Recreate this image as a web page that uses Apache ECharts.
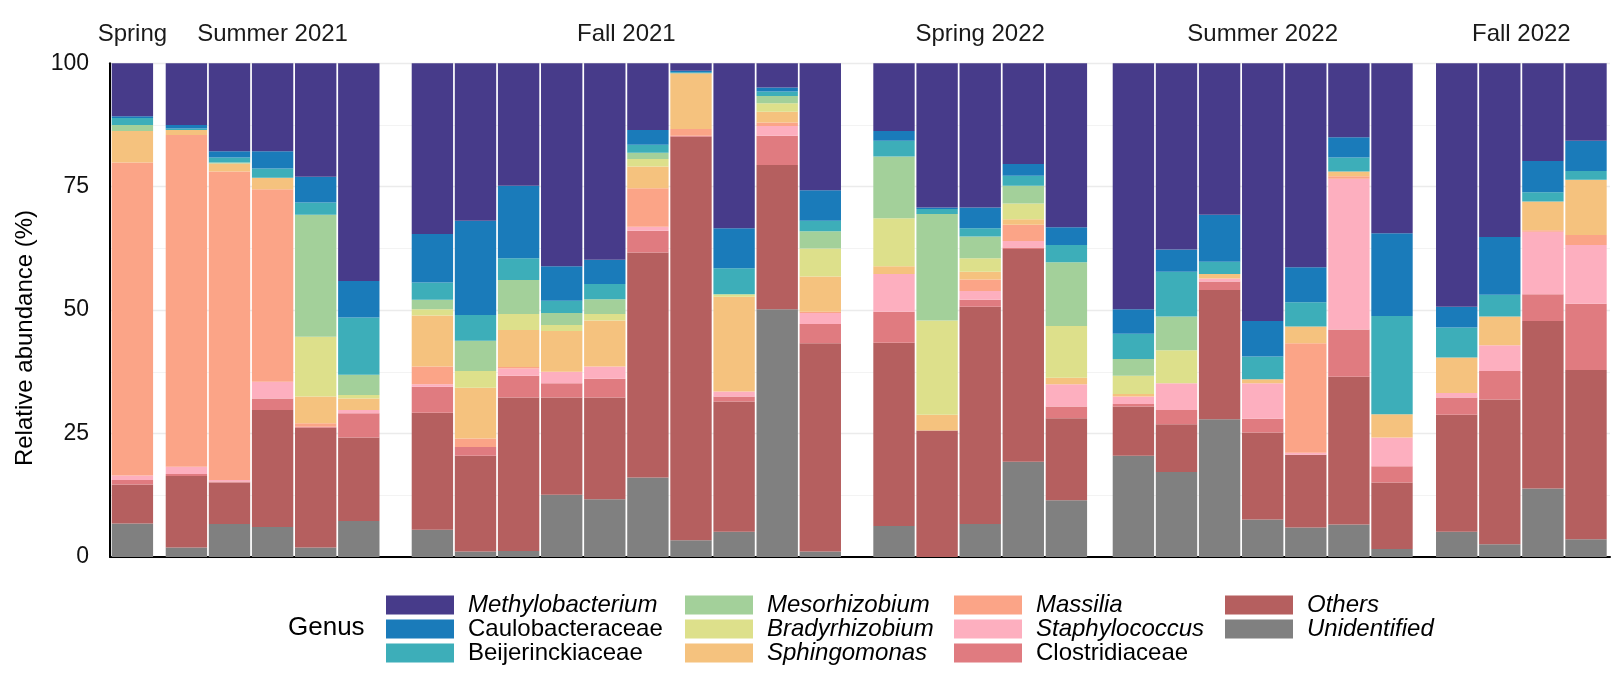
<!DOCTYPE html>
<html>
<head>
<meta charset="utf-8">
<title>Relative abundance by season</title>
<script src="https://cdn.jsdelivr.net/npm/echarts@6/dist/echarts.min.js"></script>
<style>
    html, body { margin: 0; padding: 0; background: #fff; }
    #main { width: 1615px; height: 680px; }
</style>
</head>
<body>
<div id="main"></div>
<script>
// facets (season) and how many samples each one holds
var seasons = ['Spring', 'Summer 2021', 'Fall 2021', 'Spring 2022', 'Summer 2022', 'Fall 2022'];
var seasonSizes = [1, 5, 10, 5, 7, 4];
var yTicks = [0, 25, 50, 75, 100];

// genera, top of the stack first
var genera = ['Methylobacterium', 'Caulobacteraceae', 'Beijerinckiaceae', 'Mesorhizobium', 'Bradyrhizobium',
    'Sphingomonas', 'Massilia', 'Staphylococcus', 'Clostridiaceae', 'Others', 'Unidentified'];
var italicGenera = ['Methylobacterium', 'Mesorhizobium', 'Bradyrhizobium', 'Sphingomonas', 'Massilia',
    'Staphylococcus', 'Others', 'Unidentified'];

// relative abundance (%) per sample, samples in facet order
var methylobacterium = [10.7, 12.5, 17.8, 17.8, 23.0, 44.1, 34.6, 31.9, 24.8, 41.1, 39.8, 13.5, 1.5, 33.4, 4.9, 25.7,
    13.7, 29.2, 29.2, 20.4, 33.2, 49.8, 37.7, 30.7, 52.2, 41.3, 15.0, 34.4, 49.3, 35.2, 19.8, 15.7];
var caulobacteraceae = [0.4, 0.7, 1.3, 3.5, 5.2, 7.4, 9.8, 19.1, 14.7, 7.0, 4.9, 3.0, 0.3, 8.1, 0.8, 6.2,
    2.0, 0.3, 4.2, 2.4, 3.6, 5.0, 4.5, 9.5, 7.2, 7.1, 4.1, 16.8, 4.2, 11.7, 6.3, 6.1];
var beijerinckiaceae = [1.4, 0.3, 1.0, 1.9, 2.5, 11.6, 3.5, 5.2, 4.4, 2.5, 3.1, 1.6, 0.2, 5.3, 0.9, 2.1,
    3.2, 1.0, 1.7, 2.0, 3.5, 5.1, 9.1, 2.5, 4.6, 4.9, 2.8, 19.9, 6.1, 4.4, 1.9, 1.8];
var mesorhizobium = [1.2, 0, 0.2, 0, 24.7, 4.1, 1.9, 6.1, 6.9, 2.4, 3.0, 1.3, 0, 0, 1.5, 3.5,
    12.5, 21.6, 4.4, 3.6, 12.9, 3.4, 6.8, 0, 0, 0, 0, 0, 0, 0, 0, 0];
var bradyrhizobium = [0, 0, 0, 0, 12.1, 0.7, 1.3, 3.4, 3.2, 1.2, 1.3, 1.5, 0, 0.5, 1.7, 5.7,
    9.7, 19.1, 2.7, 3.2, 10.5, 3.7, 6.7, 0, 0, 0, 0, 0, 0, 0, 0, 0];
var sphingomonas = [6.4, 1.0, 1.6, 2.3, 5.4, 2.3, 10.3, 10.3, 7.5, 8.3, 9.3, 4.4, 11.3, 19.2, 2.2, 7.1,
    1.6, 3.2, 1.6, 1.1, 1.3, 0.5, 0, 0.9, 0.8, 3.4, 1.0, 4.7, 7.2, 5.8, 5.8, 11.2];
var massilia = [63.4, 67.2, 62.5, 39.0, 0.7, 0, 3.6, 1.7, 0.3, 0, 0, 7.8, 1.4, 0, 0.7, 0.3,
    0, 0, 2.3, 3.3, 0, 0, 0, 0, 0, 22.2, 0.5, 0, 0, 0, 0.3, 2.0];
var staphylococcus = [0.9, 1.5, 0.3, 3.4, 0, 0.7, 0.5, 0, 1.5, 2.3, 2.5, 0.8, 0, 1.0, 2.0, 2.2,
    7.6, 0, 1.8, 1.3, 4.5, 1.5, 5.4, 0.6, 7.2, 0.4, 30.5, 5.8, 0.9, 5.2, 12.7, 11.9];
var clostridiaceae = [0.9, 0.4, 0.2, 2.3, 0.2, 4.9, 5.3, 1.8, 4.4, 2.9, 3.8, 4.4, 0.2, 1.0, 5.9, 3.9,
    6.3, 0, 1.4, 0.3, 2.4, 0.5, 2.9, 1.7, 2.8, 0, 9.6, 3.3, 3.5, 5.8, 5.4, 13.4];
var others = [7.9, 14.5, 8.4, 23.7, 24.3, 16.9, 23.7, 19.4, 31.1, 19.7, 20.6, 45.6, 81.7, 26.4, 29.2, 42.2,
    37.1, 25.6, 44.0, 43.1, 16.6, 10.0, 9.7, 26.2, 17.6, 14.7, 29.9, 13.5, 23.7, 29.3, 33.9, 34.3];
var unidentified = [6.8, 1.9, 6.7, 6.1, 1.9, 7.3, 5.5, 1.1, 1.2, 12.6, 11.7, 16.1, 3.4, 5.1, 50.2, 1.1,
    6.3, 0, 6.7, 19.3, 11.5, 20.5, 17.2, 27.9, 7.6, 6.0, 6.6, 1.6, 5.1, 2.6, 13.9, 3.6];

var abundance = [methylobacterium, caulobacteraceae, beijerinckiaceae, mesorhizobium, bradyrhizobium,
    sphingomonas, massilia, staphylococcus, clostridiaceae, others, unidentified];
var colors = ['#473B8A', '#1A7BBA', '#3DAEB9', '#A3D09A', '#DDE08B', '#F5C27E', '#FBA487', '#FDAFBF',
    '#E07B80', '#B55F5F', '#808080'];

// layout
var FONT = '"Liberation Sans", Arial, sans-serif';
var plotTop = 63.3;
var plotHeight = 493.7;
var barStep = 43.1;
var panelLeft = [110.85, 164.85, 410.85, 872.45, 1111.85, 1435.15];

var myChart = echarts.init(document.getElementById('main'));

var grid = [{
    left: 110, top: plotTop, width: 1500, height: plotHeight, outerBoundsMode: 'none'
}];
var xAxis = [{
    type: 'value', gridIndex: 0, min: 0, max: 1,
    axisLine: { show: true, onZero: false, lineStyle: { color: '#000', width: 2 } },
    axisTick: { show: false }, axisLabel: { show: false }, splitLine: { show: false }
}];
var yAxis = [{
    type: 'value', gridIndex: 0, min: yTicks[0], max: yTicks[yTicks.length - 1], interval: 25,
    axisLine: { show: true, lineStyle: { color: '#000', width: 2 } },
    axisTick: { show: false },
    axisLabel: { margin: 21, fontSize: 23, color: '#111', fontFamily: FONT },
    splitLine: { show: true, lineStyle: { color: '#EBEBEB', width: 1.4 } },
    minorTick: { show: false, splitNumber: 2 },
    minorSplitLine: { show: true, lineStyle: { color: '#F3F3F3', width: 1 } }
}];
var series = [];
var graphic = [];

var start = 0;
for (var i = 0; i < seasons.length; i++) {
    var n = seasonSizes[i];
    var g = i + 1;
    var samples = [];
    for (var k = 0; k < n; k++) {
        samples.push(seasons[i] + ' #' + (k + 1));
    }
    grid.push({ left: panelLeft[i], top: plotTop, width: n * barStep, height: plotHeight, outerBoundsMode: 'none' });
    xAxis.push({ type: 'category', gridIndex: g, data: samples, show: false });
    yAxis.push({ type: 'value', gridIndex: g, min: 0, max: 100, show: false });

    // bottom of the stack first
    for (var j = genera.length - 1; j >= 0; j--) {
        series.push({
            name: genera[j],
            type: 'bar',
            xAxisIndex: g,
            yAxisIndex: g,
            stack: 'season' + i,
            barCategoryGap: '4%',
            itemStyle: { color: colors[j] },
            emphasis: { disabled: true },
            data: abundance[j].slice(start, start + n)
        });
    }

    graphic.push({
        type: 'text',
        x: panelLeft[i] + n * barStep / 2,
        y: 34,
        style: {
            text: seasons[i], fill: '#1a1a1a', font: '24px ' + FONT,
            textAlign: 'center', textVerticalAlign: 'middle'
        }
    });
    start += n;
}

graphic.push({
    type: 'text', x: 25, y: 338, rotation: Math.PI / 2,
    style: {
        text: 'Relative abundance (%)', fill: '#000', font: '24px ' + FONT,
        textAlign: 'center', textVerticalAlign: 'middle'
    }
});
graphic.push({
    type: 'text', x: 288, y: 628,
    style: { text: 'Genus', fill: '#000', font: '26px ' + FONT, textAlign: 'left', textVerticalAlign: 'middle' }
});

// legend: four columns of three keys
var legendCols = [genera.slice(0, 3), genera.slice(3, 6), genera.slice(6, 9), genera.slice(9)];
var legendLeft = [386, 685, 954, 1225];
var legend = legendCols.map(function (col, c) {
    return {
        data: col.map(function (name) { return { name: name, icon: 'rect' }; }),
        orient: 'vertical',
        left: legendLeft[c],
        top: 593,
        padding: 0,
        itemWidth: 68,
        itemHeight: 19,
        itemGap: 0,
        selectedMode: false,
        formatter: function (name) {
            return italicGenera.indexOf(name) >= 0 ? '{i|' + name + '}' : '{n|' + name + '}';
        },
        textStyle: {
            rich: {
                i: { fontStyle: 'italic', fontSize: 24, lineHeight: 23, color: '#000', fontFamily: FONT, padding: [0, 0, 0, 9] },
                n: { fontSize: 24, lineHeight: 23, color: '#000', fontFamily: FONT, padding: [0, 0, 0, 9] }
            }
        }
    };
});

var option = {
    backgroundColor: '#fff',
    animation: false,
    grid: grid,
    xAxis: xAxis,
    yAxis: yAxis,
    legend: legend,
    graphic: graphic,
    series: series
};

myChart.setOption(option);
</script>
</body>
</html>
